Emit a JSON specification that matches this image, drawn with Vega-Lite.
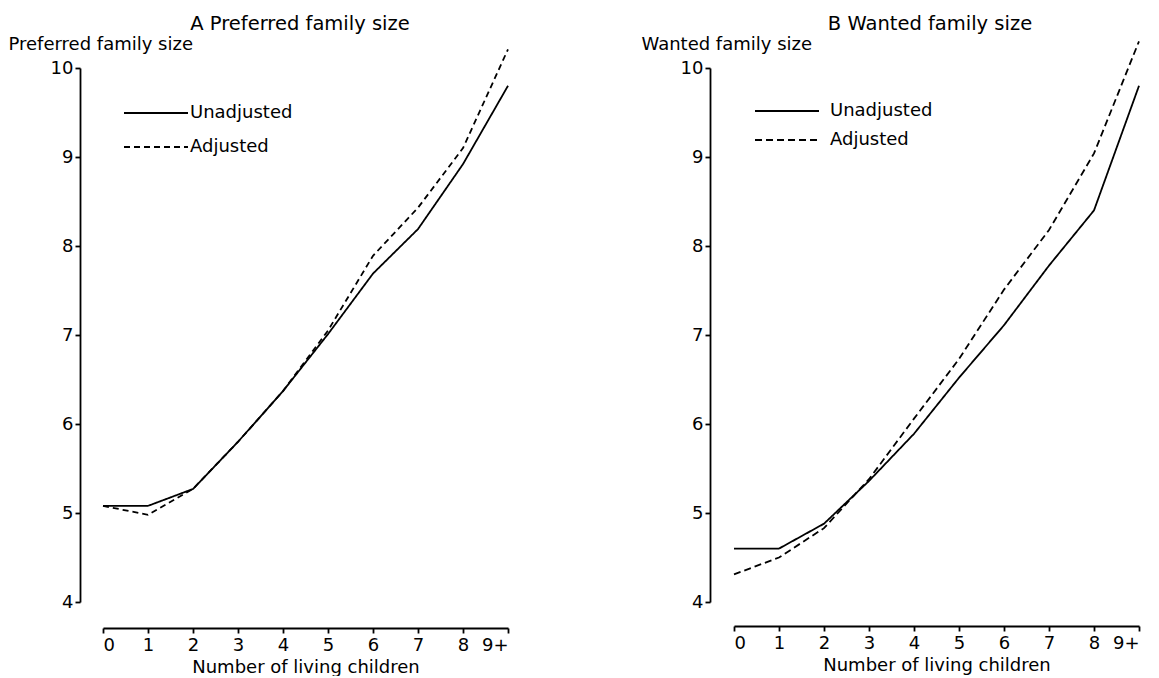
{
  "$schema": "https://vega.github.io/schema/vega-lite/v6.json",
  "background": "white",
  "padding": {"left": 8, "top": 13, "right": 5, "bottom": 0},
  "config": {
    "font": "DejaVu Sans",
    "view": {"stroke": null},
    "axis": {"grid": false, "domainColor": "black", "tickColor": "black", "labelColor": "black", "titleColor": "black", "labelFont": "DejaVu Sans", "titleFont": "DejaVu Sans", "labelFontSize": 18, "titleFontSize": 18, "titleFontWeight": "normal", "domainWidth": 1.8, "tickWidth": 1.8, "tickSize": 5},
    "title": {"font": "DejaVu Sans", "fontSize": 19.5, "fontWeight": "normal", "color": "black"},
    "legend": {"labelFont": "DejaVu Sans", "labelFontSize": 18, "labelColor": "black"}
  },
  "datasets": {
    "fam": [
      {"panel": "A", "n": 0, "series": "Unadjusted", "value": 5.08},
      {"panel": "A", "n": 1, "series": "Unadjusted", "value": 5.08},
      {"panel": "A", "n": 2, "series": "Unadjusted", "value": 5.27},
      {"panel": "A", "n": 3, "series": "Unadjusted", "value": 5.8},
      {"panel": "A", "n": 4, "series": "Unadjusted", "value": 6.37},
      {"panel": "A", "n": 5, "series": "Unadjusted", "value": 7.01},
      {"panel": "A", "n": 6, "series": "Unadjusted", "value": 7.69},
      {"panel": "A", "n": 7, "series": "Unadjusted", "value": 8.19},
      {"panel": "A", "n": 8, "series": "Unadjusted", "value": 8.92},
      {"panel": "A", "n": 9, "series": "Unadjusted", "value": 9.8},
      {"panel": "A", "n": 0, "series": "Adjusted", "value": 5.08},
      {"panel": "A", "n": 1, "series": "Adjusted", "value": 4.98},
      {"panel": "A", "n": 2, "series": "Adjusted", "value": 5.27},
      {"panel": "A", "n": 3, "series": "Adjusted", "value": 5.8},
      {"panel": "A", "n": 4, "series": "Adjusted", "value": 6.37},
      {"panel": "A", "n": 5, "series": "Adjusted", "value": 7.05},
      {"panel": "A", "n": 6, "series": "Adjusted", "value": 7.89},
      {"panel": "A", "n": 7, "series": "Adjusted", "value": 8.43},
      {"panel": "A", "n": 8, "series": "Adjusted", "value": 9.1},
      {"panel": "A", "n": 9, "series": "Adjusted", "value": 10.21},
      {"panel": "B", "n": 0, "series": "Unadjusted", "value": 4.6},
      {"panel": "B", "n": 1, "series": "Unadjusted", "value": 4.6},
      {"panel": "B", "n": 2, "series": "Unadjusted", "value": 4.88},
      {"panel": "B", "n": 3, "series": "Unadjusted", "value": 5.36},
      {"panel": "B", "n": 4, "series": "Unadjusted", "value": 5.89},
      {"panel": "B", "n": 5, "series": "Unadjusted", "value": 6.52},
      {"panel": "B", "n": 6, "series": "Unadjusted", "value": 7.11},
      {"panel": "B", "n": 7, "series": "Unadjusted", "value": 7.78},
      {"panel": "B", "n": 8, "series": "Unadjusted", "value": 8.4},
      {"panel": "B", "n": 9, "series": "Unadjusted", "value": 9.8},
      {"panel": "B", "n": 0, "series": "Adjusted", "value": 4.31},
      {"panel": "B", "n": 1, "series": "Adjusted", "value": 4.5},
      {"panel": "B", "n": 2, "series": "Adjusted", "value": 4.83},
      {"panel": "B", "n": 3, "series": "Adjusted", "value": 5.38},
      {"panel": "B", "n": 4, "series": "Adjusted", "value": 6.06},
      {"panel": "B", "n": 5, "series": "Adjusted", "value": 6.73},
      {"panel": "B", "n": 6, "series": "Adjusted", "value": 7.51},
      {"panel": "B", "n": 7, "series": "Adjusted", "value": 8.18},
      {"panel": "B", "n": 8, "series": "Adjusted", "value": 9.04},
      {"panel": "B", "n": 9, "series": "Adjusted", "value": 10.3}
    ]
  },
  "spacing": 121,
  "hconcat": [
    {
      "data": {"name": "fam"},
      "transform": [{"filter": "datum.panel == 'A'"}],
      "title": {"text": "A  Preferred family size", "anchor": "middle", "offset": 1},
      "width": 440,
      "height": 534,
      "mark": {"type": "line", "color": "black", "strokeWidth": 1.8},
      "encoding": {
        "x": {"field": "n", "type": "quantitative", "scale": {"domain": [0, 9], "range": [23, 428], "nice": false, "zero": false},
          "axis": {"title": "Number of living children", "values": [0,1,2,3,4,5,6,7,8,9], "labelExpr": "datum.value == 9 ? '9+' : datum.label", "offset": 26, "labelPadding": 3, "titlePadding": 4}},
        "y": {"field": "value", "type": "quantitative", "scale": {"domain": [4, 10], "nice": false, "zero": false},
          "axis": {"title": "Preferred family size", "values": [4,5,6,7,8,9,10], "titleAngle": 0, "titleAlign": "left", "titleBaseline": "middle", "titleX": -72, "titleY": -24, "labelPadding": 2}},
        "strokeDash": {"field": "series", "type": "nominal", "scale": {"domain": ["Unadjusted", "Adjusted"], "range": [[1, 0], [6, 4]]},
          "legend": {"title": null, "orient": "none", "legendX": 43, "legendY": 36, "symbolType": "M-1,0H7", "symbolSize": 256, "symbolStrokeColor": "black", "symbolStrokeWidth": 1.8, "labelOffset": 49, "rowPadding": 16}}
      }
    },
    {
      "data": {"name": "fam"},
      "transform": [{"filter": "datum.panel == 'B'"}],
      "title": {"text": "B  Wanted family size", "anchor": "middle", "offset": 1},
      "width": 440,
      "height": 534,
      "mark": {"type": "line", "color": "black", "strokeWidth": 1.8},
      "encoding": {
        "x": {"field": "n", "type": "quantitative", "scale": {"domain": [0, 9], "range": [24, 429], "nice": false, "zero": false},
          "axis": {"title": "Number of living children", "values": [0,1,2,3,4,5,6,7,8,9], "labelExpr": "datum.value == 9 ? '9+' : datum.label", "offset": 24, "labelPadding": 3, "titlePadding": 4}},
        "y": {"field": "value", "type": "quantitative", "scale": {"domain": [4, 10], "nice": false, "zero": false},
          "axis": {"title": "Wanted family size", "values": [4,5,6,7,8,9,10], "titleAngle": 0, "titleAlign": "left", "titleBaseline": "middle", "titleX": -69, "titleY": -24, "labelPadding": 2}},
        "strokeDash": {"field": "series", "type": "nominal", "scale": {"domain": ["Unadjusted", "Adjusted"], "range": [[1, 0], [7, 4]]},
          "legend": {"title": null, "orient": "none", "legendX": 44, "legendY": 34, "symbolType": "M-1,0H7", "symbolSize": 256, "symbolStrokeColor": "black", "symbolStrokeWidth": 1.8, "labelOffset": 58, "rowPadding": 11}}
      }
    }
  ],
  "resolve": {"scale": {"strokeDash": "independent", "x": "independent", "y": "independent"}, "legend": {"strokeDash": "independent"}}
}
